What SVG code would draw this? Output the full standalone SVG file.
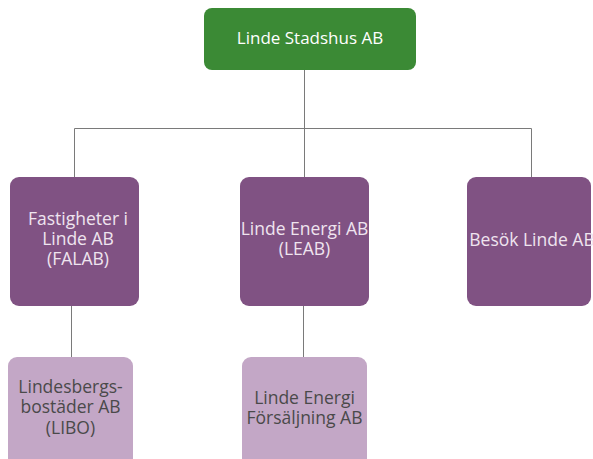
<svg xmlns="http://www.w3.org/2000/svg" width="593" height="459" viewBox="0 0 593 459">
<style>
text{font-family:"Open Sans","Noto Sans",sans-serif;font-size:17.5px;text-anchor:middle}
.g{fill:#3b8a35}
.p{fill:#805283}
.l{fill:#c3a7c6}
.wt{fill:#ffffff;font-size:17px}
.pt{fill:#efe4ef}
.dt{fill:#4a4a4a}
.c{stroke:#7a7a7a;stroke-width:1;fill:none}
</style>
<rect width="593" height="459" fill="#ffffff"/>
<g id="connectors">
<path class="c" d="M304.5 70V128.5M74.5 128.5H531.5M74.5 128.5V177M304.5 128.5V177M531.5 128.5V177M71.5 306V357M303.5 306V357"/>
</g>
<g id="n-stadshus">
<rect class="g" x="204" y="8" width="212" height="62" rx="8"/>
<text class="wt" x="310" y="44">Linde Stadshus AB</text>
</g>
<g id="n-falab">
<rect class="p" x="10" y="177" width="129" height="129" rx="9"/>
<text class="pt" x="78" y="225">Fastigheter i</text>
<text class="pt" x="78" y="245">Linde AB</text>
<text class="pt" x="78" y="265">(FALAB)</text>
</g>
<g id="n-leab">
<rect class="p" x="240" y="177" width="129" height="129" rx="9"/>
<text class="pt" x="304.5" y="235">Linde Energi AB</text>
<text class="pt" x="304.5" y="255">(LEAB)</text>
</g>
<g id="n-besok">
<rect class="p" x="467" y="177" width="124" height="129" rx="9"/>
<text class="pt" x="532" y="246">Besök Linde AB</text>
</g>
<g id="n-libo">
<rect class="l" x="8" y="357" width="125" height="110" rx="9"/>
<text class="dt" x="70.5" y="393">Lindesbergs-</text>
<text class="dt" x="70.5" y="413">bostäder AB</text>
<text class="dt" x="70.5" y="434">(LIBO)</text>
</g>
<g id="n-forsaljning">
<rect class="l" x="242" y="357" width="125" height="110" rx="9"/>
<text class="dt" x="304.5" y="404">Linde Energi</text>
<text class="dt" x="304.5" y="424">Försäljning AB</text>
</g>
</svg>
